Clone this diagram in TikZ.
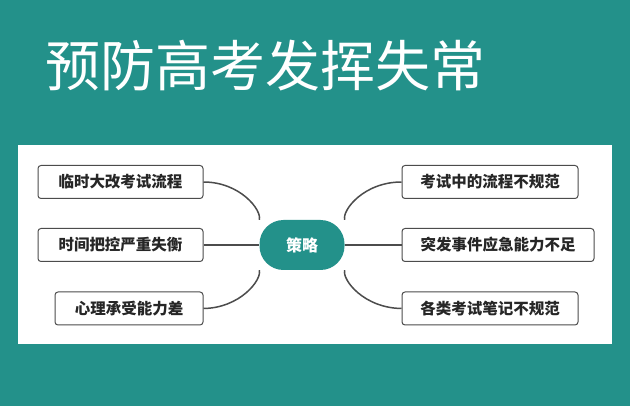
\documentclass[tikz,border=0pt]{standalone}
\usepackage{fontspec}
\setmainfont{Noto Sans CJK SC}
\definecolor{teal1}{HTML}{23918A}
\tikzset{
 leaf/.style={draw=black!70,line width=1pt,rounded corners=3pt,fill=white,minimum height=33pt,inner xsep=8pt,font=\bfseries\fontsize{15.5pt}{17pt}\selectfont,text=black!85},
 hub/.style={fill=teal1,rounded corners=24pt,minimum width=85pt,minimum height=50pt,text=white,font=\bfseries\fontsize{16pt}{18pt}\selectfont},
 link/.style={draw=black!70,line width=1.5pt}
}
\begin{document}
\begin{tikzpicture}[x=1pt,y=-1pt]
\useasboundingbox (0,0) rectangle (630,406);
\fill[teal1] (0,0) rectangle (630,406);
\fill[white] (18,145) rectangle (612,344);
\node[text=white,font=\fontsize{55pt}{60pt}\selectfont,anchor=west,inner sep=0pt] (title) at (45,66) {预防高考发挥失常};
\node[hub] (c) at (302,245) {策略};
\node[leaf,minimum width=165pt] (l1) at (120.5,182) {临时大改考试流程};
\node[leaf,minimum width=165pt] (l2) at (120.5,245) {时间把控严重失衡};
\node[leaf,minimum width=148pt] (l3) at (129,308.5) {心理承受能力差};
\node[leaf,minimum width=176pt] (r1) at (490,182) {考试中的流程不规范};
\node[leaf,minimum width=192pt] (r2) at (498,245) {突发事件应急能力不足};
\node[leaf,minimum width=176pt] (r3) at (490,308.5) {各类考试笔记不规范};
\draw[link] (l1.east) .. controls (240,182) and (262,210) .. (c.north west);
\draw[link] (l2.east) -- (c.west);
\draw[link] (l3.east) .. controls (240,308) and (262,280) .. (c.south west);
\draw[link] (r1.west) .. controls (364,182) and (342,210) .. (c.north east);
\draw[link] (r2.west) -- (c.east);
\draw[link] (r3.west) .. controls (364,308) and (342,280) .. (c.south east);
\end{tikzpicture}
\end{document}
